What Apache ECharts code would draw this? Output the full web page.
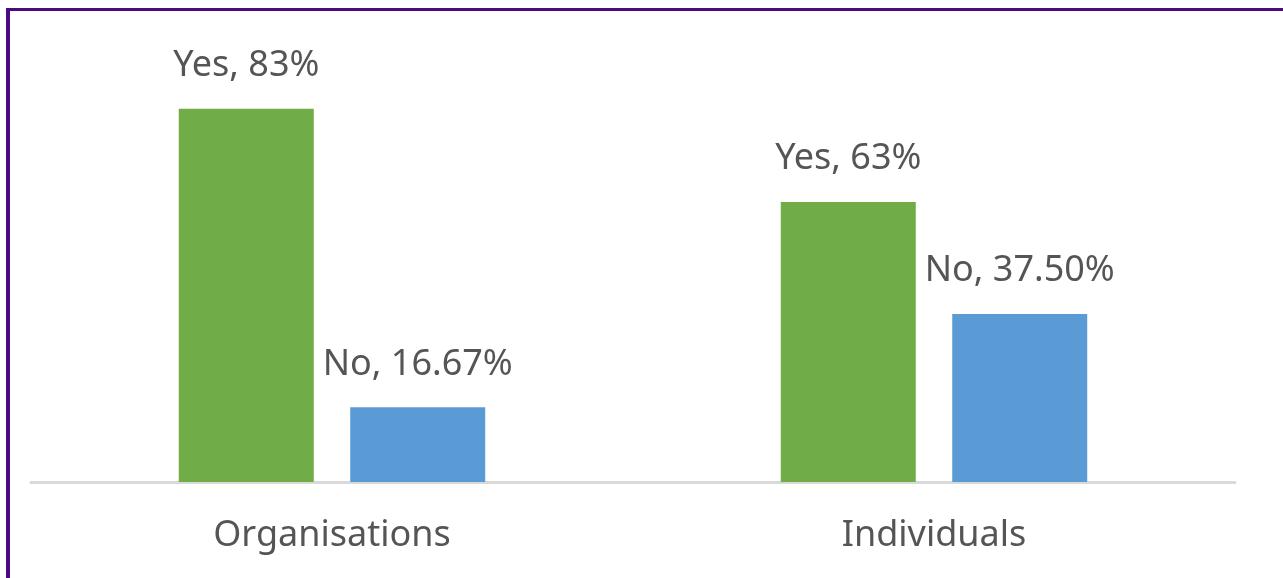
<!DOCTYPE html>
<html>
<head>
<meta charset="utf-8">
<script src="https://cdn.jsdelivr.net/npm/echarts@6/dist/echarts.min.js"></script>
<style>
  html, body { margin: 0; padding: 0; background: #fff; }
  .frame {
    position: absolute; left: 6px; top: 8px; right: 0; bottom: 0;
    border-left: 4px solid #4b0a82;
    border-top: 3px solid #4b0a82;
  }
  #chart { position: absolute; left: 0; top: 0; width: 1283px; height: 578px; }
</style>
</head>
<body>
<div class="frame"></div>
<div id="chart"></div>
<script>
// categories and series values
const categories = ["Organisations", "Individuals"];
const yesValues = [83.33, 62.5];
const noValues = [16.67, 37.5];
const yesLabels = ["Yes, 83%", "Yes, 63%"];
const noLabels = ["No, 16.67%", "No, 37.50%"];

const textColor = "#555555";
const font = "'Noto Sans', sans-serif";

let myChart = echarts.init(document.getElementById("chart"));
let option = {
  animation: false,
  grid: { left: 31, right: 48, top: 34, bottom: 96 },
  xAxis: {
    type: "category",
    data: categories,
    axisTick: { show: false },
    axisLine: { lineStyle: { color: "#d9d9d9", width: 3 } },
    axisLabel: { color: textColor, fontSize: 36, fontFamily: font, margin: 36 },
  },
  yAxis: {
    type: "value",
    min: 0,
    max: 100,
    show: false,
    splitLine: { show: false },
  },
  series: [
    {
      name: "Yes",
      type: "bar",
      data: yesValues,
      barWidth: 135,
      barGap: "27%",
      itemStyle: { color: "#70ad47" },
      label: {
        show: true,
        position: "top",
        distance: 25,
        color: textColor,
        fontSize: 36,
        fontFamily: font,
        formatter: (p) => yesLabels[p.dataIndex],
      },
    },
    {
      name: "No",
      type: "bar",
      data: noValues,
      barWidth: 135,
      itemStyle: { color: "#5b9bd5" },
      label: {
        show: true,
        position: "top",
        distance: 25,
        color: textColor,
        fontSize: 36,
        fontFamily: font,
        formatter: (p) => noLabels[p.dataIndex],
      },
    },
  ],
};
myChart.setOption(option);
</script>
</body>
</html>
